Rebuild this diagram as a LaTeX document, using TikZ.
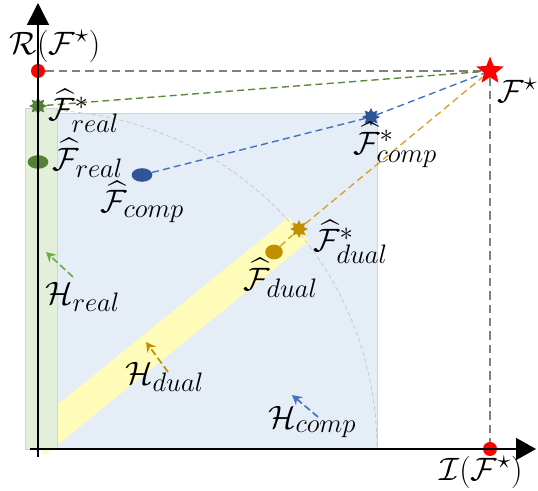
\RequirePackage{fix-cm}
\documentclass[tikz,border=0pt]{standalone}
\usepackage{amsmath,amssymb}
\usepackage{xcolor}
\usepackage{tikz}
\usetikzlibrary{arrows.meta,shapes.geometric}

\DeclareMathSizes{23}{23}{19}{15}

\definecolor{fgreen}{HTML}{548235}
\definecolor{fblue}{HTML}{2F5597}
\definecolor{fgold}{HTML}{BF9000}
\definecolor{lgreen}{HTML}{70AD47}
\definecolor{lblue}{HTML}{4472C4}
\definecolor{lgold}{HTML}{D9A42A}
\definecolor{boxblue}{HTML}{E5EDF7}
\definecolor{boxgreen}{HTML}{E2EFDA}
\definecolor{bandyellow}{HTML}{FFFBB8}

\tikzset{
  estpt/.style={ellipse, minimum width=0.52cm, minimum height=0.34cm, inner sep=0pt},
  optstar/.style={star, star points=8, star point ratio=1.7, minimum size=0.45cm, inner sep=0pt},
  linkdash/.style={dash pattern=on 5pt off 3pt, line width=1pt},
  lbl/.style={font=\fontsize{23}{27}\selectfont, anchor=west, inner sep=0pt},
  harrow/.style={dash pattern=on 5pt off 2.5pt, line width=1.2pt, -{Stealth[length=2.4mm,width=2.6mm]}},
}

\begin{document}
\begin{tikzpicture}
  \useasboundingbox (-0.95,-1.05) rectangle (12.5,11.225);
  % Feasible box and regions
  \draw[gray!35, line width=0.4pt, fill=boxblue] (-0.325,0) rectangle (8.475,8.4);
  \fill[bandyellow] (-0.325,0.45) -- (0.175,-0.15) -- (6.775,5.2) -- (6.275,5.8) -- cycle;
  \draw[gray!35, line width=0.4pt, fill=boxgreen] (-0.325,0) rectangle (0.475,8.525);
  \draw[gray!45, line width=0.5pt, dash pattern=on 3pt off 2pt] (86.8:8.475) arc (86.8:0:8.475);
  % Points
  \node[circle, fill=red, minimum size=0.35cm, inner sep=0pt] (rdot) at (0,9.45) {};
  \node[circle, fill=red, minimum size=0.35cm, inner sep=0pt] (idot) at (11.3,0) {};
  \node[star, star points=5, star point ratio=2.3, fill=red, minimum size=0.72cm, inner sep=0pt] (fstar) at (11.3,9.45) {};
  \node[optstar, fill=fgreen] (realstar) at (0,8.575) {};
  \node[estpt, fill=fgreen] (real) at (0,7.175) {};
  \node[optstar, fill=fblue] (compstar) at (8.325,8.3) {};
  \node[estpt, fill=fblue] (comp) at (2.6,6.85) {};
  \node[optstar, fill=fgold] (dualstar) at (6.525,5.5) {};
  \node[estpt, fill=fgold, minimum width=0.44cm, minimum height=0.37cm] (dual) at (5.9,4.925) {};
  % Dashed links
  \draw[gray, dash pattern=on 6pt off 3.5pt, line width=0.9pt] (rdot) -- (fstar) -- (idot);
  \draw[lgreen!80!black, linkdash] (real) -- (realstar) -- (fstar);
  \draw[lblue, linkdash] (comp) -- (compstar) -- (fstar);
  \draw[lgold, linkdash] (dual) -- (dualstar) -- (fstar);
  % Axes
  \coordinate (ybot) at (0,-0.2);
  \coordinate (ytop) at (0,11.15);
  \coordinate (xleft) at (-0.2,0);
  \coordinate (xright) at (12.45,0);
  \draw[line width=1pt, -{Triangle[length=0.55cm,width=0.55cm]}] (ybot) -- (ytop);
  \draw[line width=1pt, -{Triangle[length=0.5cm,width=0.55cm]}] (xleft) -- (xright);
  % Directions
  \draw[lgreen, harrow] (0.875,4.3) -- (0.2,4.925);
  \draw[fgold, harrow] (3.25,1.925) -- (2.7,2.675);
  \draw[lblue, harrow] (7.0,0.8) -- (6.35,1.35);
  % Labels
  \node[lbl, anchor=center] (rlbl) at (0.425,10.075) {$\mathcal{R}(\mathcal{F}^{\star})$};
  \node[lbl, anchor=center] (ilbl) at (11.075,-0.575) {$\mathcal{I}(\mathcal{F}^{\star})$};
  \node[lbl] (fstarlbl) at (11.475,8.975) {$\mathcal{F}^{\star}$};
  \node[lbl] (realstarlbl) at (0.25,8.45) {$\widehat{\mathcal{F}}^{*}_{real}$};
  \node[lbl] (reallbl) at (0.35,7.275) {$\widehat{\mathcal{F}}_{real}$};
  \node[lbl] (complbl) at (1.55,6.175) {$\widehat{\mathcal{F}}_{comp}$};
  \node[lbl] (compstarlbl) at (7.875,7.6) {$\widehat{\mathcal{F}}^{*}_{comp}$};
  \node[lbl] (dualstarlbl) at (6.875,5.175) {$\widehat{\mathcal{F}}^{*}_{dual}$};
  \node[lbl] (duallbl) at (5.125,4.275) {$\widehat{\mathcal{F}}_{dual}$};
  \node[lbl] (hreal) at (0.175,3.8) {$\mathcal{H}_{real}$};
  \node[lbl] (hdual) at (2.175,1.8) {$\mathcal{H}_{dual}$};
  \node[lbl] (hcomp) at (5.75,0.675) {$\mathcal{H}_{comp}$};
\end{tikzpicture}
\end{document}
